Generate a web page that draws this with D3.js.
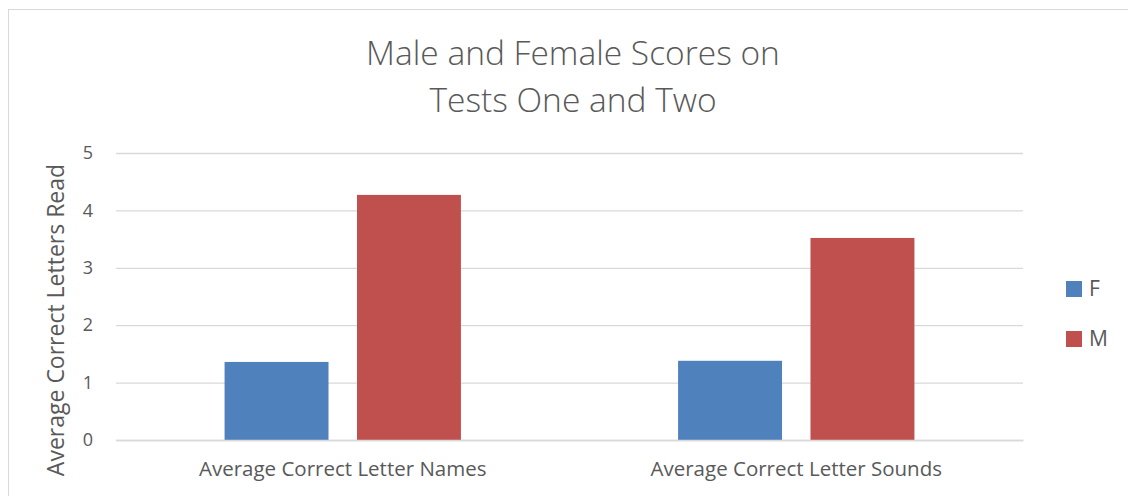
<!DOCTYPE html>
<html>
<head>
  <meta charset="utf-8"/>
  <style>
    body { margin: 0; background: #fff; }
    svg { display: block; font-family: "Open Sans", sans-serif; }
  </style>
</head>
<body>
  <div id="chart"></div>
  <script src="https://d3js.org/d3.v7.min.js"></script>
  <script>
    let categories = ['Average Correct Letter Names', 'Average Correct Letter Sounds'];
    let seriesNames = ['F', 'M'];
    let femaleValues = [1.36, 1.38];
    let maleValues = [4.27, 3.52];
    let yTicks = [0, 1, 2, 3, 4, 5];
    let titleLines = ['Male and Female Scores on', 'Tests One and Two'];
    let yTitle = 'Average Correct Letters Read';

    let width = 1128, height = 496;
    let plot = {left: 116, right: 1023, top: 153, bottom: 440};
    let colors = {F: '#4F81BD', M: '#C0504D'};
    let font = '"Open Sans", sans-serif';

    let svg = d3.select('#chart')
        .append('svg')
        .attr('width', width)
        .attr('height', height);

    // chart frame
    svg.append('rect')
        .attr('x', 8.5).attr('y', 9.5)
        .attr('width', width).attr('height', height)
        .attr('fill', 'none')
        .attr('stroke', '#d9d9d9');

    let x0 = d3.scaleBand()
        .domain(categories)
        .range([plot.left, plot.right]);

    let x1 = d3.scaleBand()
        .domain(seriesNames)
        .range([0, x0.bandwidth()])
        .paddingInner(0.215)
        .paddingOuter(0.82);

    let y = d3.scaleLinear()
        .domain([0, 5])
        .range([plot.bottom, plot.top]);

    // gridlines
    let yAxis = d3.axisLeft(y)
        .tickValues(yTicks)
        .tickFormat(d3.format('d'))
        .tickSize(-(plot.right - plot.left))
        .tickPadding(22);

    let gy = svg.append('g')
        .attr('transform', 'translate(' + plot.left + ',0)')
        .call(yAxis)
        .attr('font-family', font);
    gy.select('.domain').remove();
    gy.selectAll('.tick line').attr('stroke', '#d9d9d9').attr('stroke-width', 1.3);
    gy.selectAll('.tick text')
        .attr('fill', '#595959')
        .attr('font-size', '18px')
        .attr('text-anchor', 'middle')
        .attr('x', -28);

    let rows = categories.map(function (c, i) {
      return {cat: c, values: [
        {key: 'F', value: femaleValues[i]},
        {key: 'M', value: maleValues[i]}
      ]};
    });

    let groups = svg.selectAll('.grp')
        .data(rows)
        .enter()
        .append('g')
        .attr('class', 'grp')
        .attr('transform', function (d) { return 'translate(' + x0(d.cat) + ',0)'; });

    groups.selectAll('rect')
        .data(function (d) { return d.values; })
        .enter()
        .append('rect')
        .attr('x', function (d) { return x1(d.key); })
        .attr('width', x1.bandwidth())
        .attr('y', function (d) { return y(d.value); })
        .attr('height', function (d) { return y(0) - y(d.value); })
        .attr('fill', function (d) { return colors[d.key]; });

    // category labels
    let xAxis = d3.axisBottom(x0).tickSize(0).tickPadding(21);
    let gx = svg.append('g')
        .attr('transform', 'translate(0,' + plot.bottom + ')')
        .call(xAxis)
        .attr('font-family', font);
    gx.select('.domain').attr('stroke', '#d9d9d9').attr('stroke-width', 1.3);
    gx.selectAll('.tick text')
        .attr('fill', '#595959')
        .attr('font-size', '20.5px');

    // title
    svg.append('g').selectAll('text')
        .data(titleLines)
        .enter()
        .append('text')
        .attr('x', 573)
        .attr('y', function (d, i) { return 65 + i * 47; })
        .attr('text-anchor', 'middle')
        .attr('fill', '#595959')
        .attr('font-size', '33.5px')
        .attr('font-weight', 300)
        .text(function (d) { return d; });

    // y axis title
    svg.append('text')
        .attr('transform', 'translate(64,320) rotate(-90)')
        .attr('text-anchor', 'middle')
        .attr('fill', '#595959')
        .attr('font-size', '23px')
        .text(yTitle);

    // legend
    let legend = svg.selectAll('.leg')
        .data(seriesNames)
        .enter()
        .append('g')
        .attr('class', 'leg')
        .attr('transform', function (d, i) { return 'translate(1066,' + (281 + i * 50) + ')'; });
    legend.append('rect')
        .attr('width', 16).attr('height', 16)
        .attr('fill', function (d) { return colors[d]; });
    legend.append('text')
        .attr('x', 23).attr('y', 15)
        .attr('fill', '#595959')
        .attr('font-size', '21px')
        .text(function (d) { return d; });
  </script>
</body>
</html>
